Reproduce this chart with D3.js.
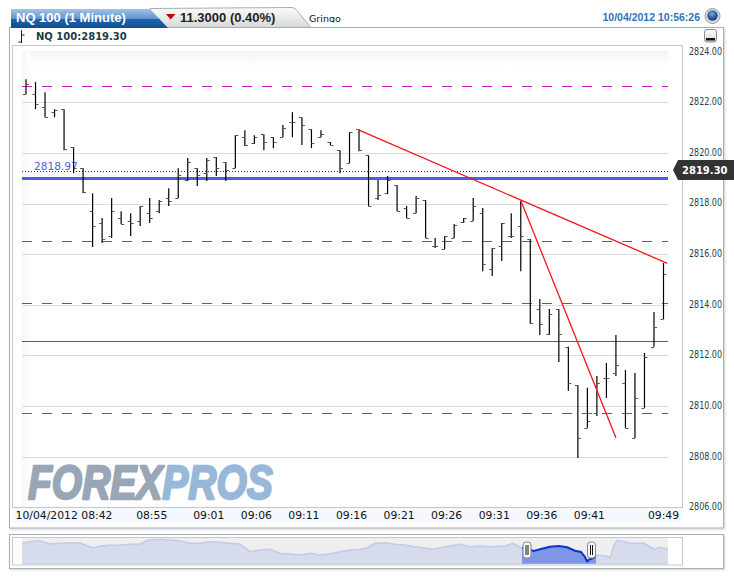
<!DOCTYPE html>
<html>
<head>
<meta charset="utf-8">
<title>NQ 100 (1 Minute)</title>
<script src="https://cdnjs.cloudflare.com/ajax/libs/d3/7.8.5/d3.min.js"></script>
<style>
    body { margin: 0; background: #fff; }
    svg { display: block; }
</style>
</head>
<body>
<div id="chart"></div>
<script>
const opens = [2822.32,2822.32,2821.81,2821.61,2821.73,2820.23,2819.40,2817.70,2817.23,2816.72,
    2817.43,2817.31,2817.31,2817.62,2817.70,2818.22,2818.22,2818.93,2819.40,2819.20,
    2819.84,2819.64,2819.40,2820.62,2820.39,2820.74,2820.62,2820.62,2821.22,2821.41,
    2820.94,2820.62,2820.43,2820.11,2819.60,2820.94,2819.91,2818.22,2818.41,2818.73,
    2817.82,2817.62,2818.14,2816.32,2816.20,2816.64,2817.27,2817.31,2817.62,2815.41,
    2816.32,2816.72,2817.11,2816.60,2813.83,2812.85,2813.83,2812.34,2810.83,2809.14,
    2809.73,2811.11,2811.31,2810.91,2808.74,2809.93,2812.34,2813.44];
const highs = [2822.91,2822.80,2822.40,2821.73,2821.73,2820.23,2819.40,2818.41,2817.43,2818.22,
    2817.70,2817.62,2817.90,2818.22,2818.14,2818.61,2819.40,2819.80,2819.40,2819.80,
    2819.84,2819.64,2820.70,2820.90,2820.70,2820.74,2820.62,2821.10,2821.61,2821.41,
    2820.94,2820.90,2820.43,2820.11,2820.82,2820.94,2819.91,2818.93,2819.09,2818.73,
    2817.90,2818.30,2818.14,2816.64,2816.72,2817.19,2817.43,2818.22,2817.82,2816.24,
    2817.23,2817.62,2818.10,2816.60,2814.23,2813.83,2813.83,2812.34,2810.83,2810.72,
    2811.19,2811.70,2812.81,2811.43,2811.31,2812.10,2813.72,2815.65];
const lows = [2822.32,2821.73,2821.41,2821.41,2820.11,2819.20,2818.41,2816.28,2816.44,2816.64,
    2817.19,2816.72,2817.11,2817.23,2817.62,2817.90,2818.22,2818.89,2818.69,2818.89,
    2819.09,2818.89,2819.40,2820.27,2820.35,2820.11,2820.19,2820.62,2820.62,2820.31,
    2820.19,2820.62,2820.31,2819.20,2819.60,2820.07,2817.90,2818.14,2818.37,2817.70,
    2817.43,2817.62,2816.64,2816.24,2816.20,2816.64,2817.23,2817.31,2815.33,2815.14,
    2815.73,2816.64,2815.33,2813.24,2812.81,2812.81,2811.74,2810.60,2807.95,2809.14,
    2809.61,2810.32,2811.19,2809.14,2808.74,2809.93,2812.34,2813.44];
const closes = [2822.72,2821.93,2821.41,2821.69,2820.15,2819.40,2818.45,2817.11,2816.60,2817.70,
    2817.19,2817.23,2817.90,2817.43,2818.10,2818.10,2819.12,2819.64,2819.12,2819.72,
    2819.40,2819.32,2820.70,2820.31,2820.62,2820.43,2820.43,2820.98,2821.22,2821.10,
    2820.39,2820.74,2820.31,2819.40,2820.82,2820.11,2817.90,2818.34,2818.93,2817.70,
    2817.43,2818.22,2816.64,2816.32,2816.72,2817.15,2817.43,2817.90,2815.61,2816.24,
    2817.23,2816.72,2816.72,2813.28,2813.24,2813.64,2812.85,2810.91,2808.74,2809.41,
    2810.91,2811.11,2811.63,2809.14,2810.32,2811.94,2813.12,2815.22];

const priceTicks = [2824, 2822, 2820, 2818, 2816, 2814, 2812, 2810, 2808, 2806];
const timeTicks = [0, 13, 19, 24, 29, 34, 39, 44, 49, 54, 59, 67];
const timeLabels = ["10/04/2012 08:42", "08:55", "09:01", "09:06", "09:11", "09:16",
    "09:21", "09:26", "09:31", "09:36", "09:41", "09:49"];

const dashedLevels = [2822.66, 2816.51, 2814.06, 2809.71];
const solidLevel = 2812.56;
const supportLevel = 2818.97;
const lastPrice = 2819.30;

// trend lines: [bar index, price] pairs
const trendStart = [[35, 2820.90], [52, 2818.12]];
const trendEnd = [[67.4, 2815.64], [62, 2808.75]];

// overview strip below the chart
const navBars = [0,8,18,28,38,48,58,68,71,78,88,98,108,118,126,138,148,158,168,178,188,198,208,218,223,228,
    238,248,258,268,278,288,298,308,318,328,338,345,353,363,373,383,393,412,423,438,448,458,468,483,491,498,
    512,518,528,537,545,553,559,563,565,568,571,575,585,588,592,595,598,608,622,632,638,646];
const navPrices = [2825.5,2827.1,2828.1,2824.8,2825.5,2826.1,2825.8,2822.1,2820.8,2822.8,2823.5,2823.8,2824.5,2824.8,2828.8,2829.5,2828.8,2827.8,2825.5,2825.5,2827.1,2826.5,2825.5,2824.8,2820.8,2817.1,
    2818.8,2819.5,2815.5,2814.8,2813.8,2815.5,2813.8,2814.8,2817.1,2818.8,2819.5,2820.8,2825.5,2826.1,2824.5,2823.8,2822.1,2819.5,2822.1,2824.5,2822.1,2822.8,2822.1,2822.8,2825.5,2821.5,
    2817.8,2819.5,2822.1,2822.8,2821.5,2818.1,2816.8,2811.8,2807.6,2809.6,2810.8,2813.8,2812.8,2810.8,2823.8,2828.1,2828.1,2825.5,2825.5,2819.5,2821.5,2819.8];

const svg = d3.select("#chart").append("svg")
    .attr("width", 734)
    .attr("height", 577)
    .style("font-family", "'Liberation Sans', Arial, sans-serif");

const defs = svg.append("defs");

function gradient(id, stops, x2, y2) {
    const g = defs.append("linearGradient").attr("id", id)
        .attr("x1", 0).attr("y1", 0).attr("x2", x2).attr("y2", y2);
    stops.forEach(s => g.append("stop").attr("offset", s[0]).attr("stop-color", s[1]));
}
gradient("tabBlue", [[0, "#a3c3e6"], [0.5, "#5f95d0"], [0.55, "#1f64ab"], [1, "#0f4f93"]], 0, 1);
gradient("tabGray", [[0, "#fbfbfb"], [1, "#d8d8d8"]], 0, 1);
gradient("plotTop", [[0, "#f4f4f4"], [1, "#ffffff"]], 0, 1);
gradient("plotLeft", [[0, "#f6f6f6"], [1, "#ffffff"]], 1, 0);
gradient("btn", [[0, "#ffffff"], [1, "#d5d5d5"]], 0, 1);
const globe = defs.append("radialGradient").attr("id", "globe").attr("cx", "45%").attr("cy", "35%").attr("r", "65%");
globe.append("stop").attr("offset", 0).attr("stop-color", "#7fb0e0");
globe.append("stop").attr("offset", 0.55).attr("stop-color", "#2c66a8");
globe.append("stop").attr("offset", 1).attr("stop-color", "#123f75");
const shadow = defs.append("filter").attr("id", "soft").attr("x", "-2%").attr("y", "-5%").attr("width", "104%").attr("height", "110%");
shadow.append("feDropShadow").attr("dx", 1).attr("dy", 1).attr("stdDeviation", 1).attr("flood-color", "#000").attr("flood-opacity", 0.18);
defs.append("clipPath").attr("id", "tabClip").append("rect").attr("x", 300).attr("y", 8).attr("width", 50).attr("height", 14.5);
defs.append("clipPath").attr("id", "selClip").append("rect").attr("x", 522).attr("y", 536).attr("width", 74).attr("height", 30);

// outer panels
svg.append("rect").attr("x", 9.5).attr("y", 27.5).attr("width", 714).attr("height", 500.5)
    .attr("fill", "#fff").attr("stroke", "#a8aeb0").attr("filter", "url(#soft)");
svg.append("rect").attr("x", 9.5).attr("y", 534.5).attr("width", 714).attr("height", 34)
    .attr("fill", "#fff").attr("stroke", "#a8aeb0").attr("filter", "url(#soft)");

// tabs
svg.append("path").attr("d", "M150 8.5 L292 7.5 Q294 7.5 296 9.5 L311 27.5 L150 27.5 Z")
    .attr("fill", "url(#tabGray)").attr("stroke", "#a8aeb0");
svg.append("path").attr("d", "M11 9 L150 9 L168 28 L11 28 Z").attr("fill", "url(#tabBlue)");
svg.append("text").attr("x", 16).attr("y", 22).attr("font-size", 13).attr("font-weight", "bold")
    .attr("fill", "#fff").text("NQ 100 (1 Minute)");
svg.append("path").attr("d", "M166 14 L175.5 14 L170.7 19.5 Z").attr("fill", "#c00000");
svg.append("text").attr("x", 180).attr("y", 22).attr("font-size", 13).attr("font-weight", "bold")
    .attr("fill", "#222").text("11.3000 (0.40%)");
svg.append("text").attr("x", 309).attr("y", 21.5).attr("font-size", 9.5).attr("fill", "#111")
    .attr("font-family", "'DejaVu Sans', sans-serif").attr("clip-path", "url(#tabClip)").text("Gringo");
svg.append("text").attr("x", 700).attr("y", 21).attr("text-anchor", "end").attr("font-size", 10.5)
    .attr("font-weight", "bold").attr("fill", "#2f72b6").text("10/04/2012 10:56:26");
svg.append("circle").attr("cx", 712.5).attr("cy", 16).attr("r", 7.5).attr("fill", "#dcdcdc").attr("stroke", "#9a9a9a");
svg.append("circle").attr("cx", 712.5).attr("cy", 15.5).attr("r", 5.2).attr("fill", "url(#globe)");

// legend row
svg.append("path").attr("d", "M21.5 30 V43 M18.5 42 H21.5 M21.5 35 H24.5").attr("stroke", "#222").attr("fill", "none");
svg.append("text").attr("x", 36).attr("y", 40).attr("font-size", 10).attr("font-weight", "bold")
    .attr("font-family", "'DejaVu Sans', sans-serif").attr("fill", "#1d3c45").text("NQ 100:2819.30");
svg.append("rect").attr("x", 704.5).attr("y", 29.5).attr("width", 12).attr("height", 12.5).attr("rx", 2.5)
    .attr("fill", "url(#btn)").attr("stroke", "#8d8d8d");
svg.append("rect").attr("x", 706).attr("y", 38).attr("width", 9).attr("height", 2.5).attr("fill", "#111");

// plot frame
svg.append("rect").attr("x", 12.5).attr("y", 45.5).attr("width", 670).attr("height", 462)
    .attr("fill", "#fff").attr("stroke", "#c6c8c8");
svg.append("rect").attr("x", 22).attr("y", 51).attr("width", 646).attr("height", 15).attr("fill", "url(#plotTop)");
svg.append("rect").attr("x", 22).attr("y", 51).attr("width", 8).attr("height", 456).attr("fill", "url(#plotLeft)");
svg.append("rect").attr("x", 13).attr("y", 508).attr("width", 669).attr("height", 15).attr("fill", "#f5f8fe");

const x = d3.scaleLinear().domain([0, 67]).range([26, 663.5]);
const y = d3.scaleLinear().domain([2806, 2824]).range([507.3, 51.7]);
const left = 22, right = 668;

// gridlines
svg.append("g").selectAll("line")
    .data(priceTicks.slice(1, -1))
    .enter()
    .append("line")
    .attr("x1", left).attr("x2", right)
    .attr("y1", d => Math.round(y(d)) + 0.5).attr("y2", d => Math.round(y(d)) + 0.5)
    .attr("stroke", "#dadada");

// logo, squeezed sideways to the width of the original wordmark
const logo = svg.append("text").attr("transform", "translate(28,499) scale(0.796,1)")
    .attr("font-size", 49).attr("font-weight", "bold").attr("font-style", "italic")
    .attr("stroke-width", 2.4).attr("stroke-linejoin", "round");
logo.append("tspan").attr("fill", "#98a6b5").attr("stroke", "#98a6b5").text("FOREX");
logo.append("tspan").attr("fill", "#98b8d9").attr("stroke", "#98b8d9").text("PROS");

// reference levels
svg.append("g").selectAll("line")
    .data(dashedLevels)
    .enter()
    .append("line")
    .attr("x1", left).attr("x2", right)
    .attr("y1", d => Math.round(y(d)) + 0.5).attr("y2", d => Math.round(y(d)) + 0.5)
    .attr("stroke", "#d60fd6")
    .attr("stroke-dasharray", "10,10");

svg.append("line").attr("x1", left).attr("x2", right)
    .attr("y1", Math.round(y(solidLevel)) + 0.5).attr("y2", Math.round(y(solidLevel)) + 0.5)
    .attr("stroke", "#4a52c8");
svg.append("line").attr("x1", left).attr("x2", right)
    .attr("y1", Math.round(y(lastPrice)) + 0.5).attr("y2", Math.round(y(lastPrice)) + 0.5)
    .attr("stroke", "#333").attr("stroke-dasharray", "1,2");
svg.append("line").attr("x1", left).attr("x2", right)
    .attr("y1", y(supportLevel) - 0.5).attr("y2", y(supportLevel) - 0.5)
    .attr("stroke", "#4a5fe8").attr("stroke-width", 3);
svg.append("text").attr("x", 34).attr("y", 170).attr("font-size", 10.6)
    .attr("font-family", "'DejaVu Sans', sans-serif").attr("fill", "#4a5fe8")
    .text(supportLevel.toFixed(2));

// OHLC bars
const bars = svg.append("g").selectAll("g")
    .data(closes.map((c, i) => ({ i: i, o: opens[i], h: highs[i], l: lows[i], c: c })))
    .enter()
    .append("g");
bars.append("line")
    .attr("x1", d => x(d.i)).attr("x2", d => x(d.i))
    .attr("y1", d => y(d.h)).attr("y2", d => y(d.l))
    .attr("stroke", "#000").attr("stroke-width", 1.2);
bars.append("line")
    .attr("x1", d => x(d.i) - 3).attr("x2", d => x(d.i))
    .attr("y1", d => Math.round(y(d.o)) + 0.5).attr("y2", d => Math.round(y(d.o)) + 0.5)
    .attr("stroke", "#555");
bars.append("line")
    .attr("x1", d => x(d.i)).attr("x2", d => x(d.i) + 3)
    .attr("y1", d => Math.round(y(d.c)) + 0.5).attr("y2", d => Math.round(y(d.c)) + 0.5)
    .attr("stroke", "#555");

// trend lines
svg.append("g").selectAll("line")
    .data(trendStart.map((s, i) => [s, trendEnd[i]]))
    .enter()
    .append("line")
    .attr("x1", d => x(d[0][0])).attr("y1", d => y(d[0][1]))
    .attr("x2", d => x(d[1][0])).attr("y2", d => y(d[1][1]))
    .attr("stroke", "#f5141e").attr("stroke-width", 1.3);

// price axis
const priceAxis = svg.append("g")
    .attr("transform", "translate(689,-1)")
    .call(d3.axisRight(y).tickValues(priceTicks).tickSize(0).tickPadding(0).tickFormat(d3.format(".2f")));
priceAxis.select(".domain").remove();
priceAxis.selectAll("text").attr("font-size", 10.5).attr("font-family", "'DejaVu Sans', sans-serif")
    .attr("textLength", 33).attr("lengthAdjust", "spacingAndGlyphs").attr("fill", "#24424b");

// time axis
const timeAxis = svg.append("g")
    .attr("transform", "translate(0,507)")
    .call(d3.axisBottom(x).tickValues(timeTicks).tickSize(0).tickPadding(4)
        .tickFormat((d, i) => timeLabels[i]));
timeAxis.select(".domain").remove();
timeAxis.selectAll("text").attr("font-size", 10.8).attr("font-family", "'DejaVu Sans', sans-serif")
    .attr("fill", "#111");
timeAxis.selectAll(".tick").attr("transform", d => {
    const px = d === 0 ? 64 : d === 67 ? x(d) : x(d) + 2;
    return "translate(" + px + ",0)";
});

// last price flag
svg.append("path").attr("d", "M678 160 H734 V180 H678 L673 170 Z").attr("fill", "#333");
svg.append("text").attr("x", 682).attr("y", 174).attr("font-size", 10).attr("font-weight", "bold")
    .attr("font-family", "'DejaVu Sans', sans-serif").attr("fill", "#fff").text(lastPrice.toFixed(2));

// overview
const navX = d3.scaleLinear().domain([0, 646]).range([22, 668]);
const navY = d3.scaleLinear().domain([2800, 2830]).range([568.8, 538.8]);
const navBase = 2805;
const navData = navBars.map((b, i) => [b, navPrices[i]]);
const navArea = d3.area().x(d => navX(d[0])).y0(navY(navBase)).y1(d => navY(d[1]));
const navLine = d3.line().x(d => navX(d[0])).y(d => navY(d[1]));

svg.append("rect").attr("x", 12.5).attr("y", 537.5).attr("width", 670).attr("height", 27.5)
    .attr("fill", "#fff").attr("stroke", "#c6c8c8");
svg.append("rect").attr("x", 22).attr("y", 538).attr("width", 646).attr("height", 26).attr("fill", "#efefef");
svg.append("path").datum(navData).attr("d", navArea).attr("fill", "#d6dcec");
svg.append("path").datum(navData).attr("d", navLine).attr("fill", "none")
    .attr("stroke", "#c2cbea").attr("stroke-width", 1.6);
svg.append("line").attr("x1", 22).attr("x2", 668).attr("y1", navY(navBase)).attr("y2", navY(navBase))
    .attr("stroke", "#c2cbea");

const selected = svg.append("g").attr("clip-path", "url(#selClip)");
selected.append("path").datum(navData).attr("d", navArea).attr("fill", "#7f96e6");
selected.append("path").datum(navData).attr("d", navLine).attr("fill", "none")
    .attr("stroke", "#0a35c8").attr("stroke-width", 2);

svg.append("g").selectAll("g")
    .data([527, 591.5])
    .enter()
    .append("g")
    .each(function(d) {
        const h = d3.select(this);
        h.append("rect").attr("x", d - 4).attr("y", 542).attr("width", 8).attr("height", 16).attr("rx", 3)
            .attr("fill", "#f7f7f7").attr("stroke", "#8a8a8a");
        h.append("path").attr("d", "M" + (d - 1) + " 545 V555 M" + (d + 1) + " 545 V555")
            .attr("stroke", "#111").attr("fill", "none");
    });
</script>
</body>
</html>
